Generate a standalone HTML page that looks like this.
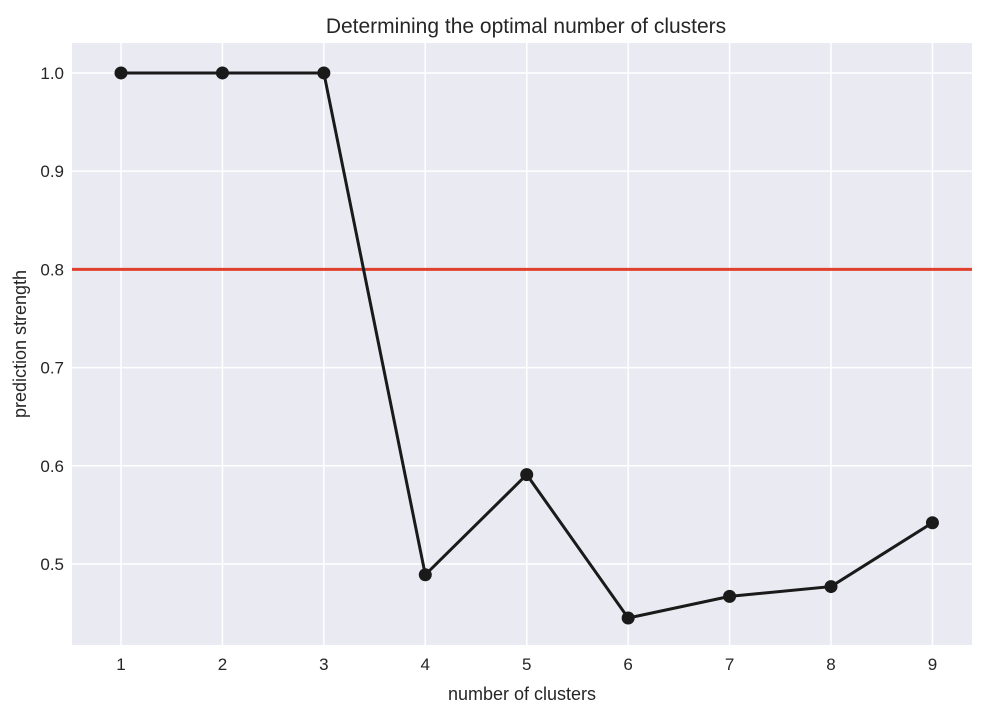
<!DOCTYPE html>
<html><head><meta charset="utf-8"><style>
body{margin:0;background:#fff;}
svg{display:block;font-family:"Liberation Sans",sans-serif;}
</style></head><body>
<svg id="chart" width="1002" height="722">
<rect x="72" y="43" width="900" height="602" fill="#eaeaf2"/>
<g id="grid"></g><g id="ticks"></g><g id="series"></g>
<text x="526" y="33" text-anchor="middle" font-size="21" fill="#262626">Determining the optimal number of clusters</text>
<text x="522" y="700" text-anchor="middle" font-size="18" fill="#262626">number of clusters</text>
<text transform="translate(26,344) rotate(-90)" text-anchor="middle" font-size="18" fill="#262626">prediction strength</text>
</svg>
<script>
const clusters=[1,2,3,4,5,6,7,8,9];
const strength=[1.0,1.0,1.0,0.489,0.591,0.445,0.467,0.477,0.542];
const yTicks=[0.5,0.6,0.7,0.8,0.9,1.0];
const threshold=0.8;
const L=72,R=972,T=43,B=645,xmin=0.517,xmax=9.39,ymin=0.4175,ymax=1.0305;
const sx=v=>L+(v-xmin)/(xmax-xmin)*(R-L);
const sy=v=>B-(v-ymin)/(ymax-ymin)*(B-T);
const NS="http://www.w3.org/2000/svg";
function mk(tag,attrs,parent){const e=document.createElementNS(NS,tag);for(const k in attrs)e.setAttribute(k,attrs[k]);document.getElementById(parent).appendChild(e);return e;}
clusters.forEach(c=>{
 const g=mk('line',{x1:sx(c),x2:sx(c),y1:T,y2:B,stroke:'#fff','stroke-width':1.5},'grid');
 
 
 const t=mk('text',{x:sx(c),y:B+25,'text-anchor':'middle','font-size':17,fill:'#262626'},'ticks');
 t.textContent=c;
 
 
});
yTicks.forEach(v=>{
 const g=mk('line',{x1:L,x2:R,y1:sy(v),y2:sy(v),stroke:'#fff','stroke-width':1.5},'grid');
 
 
 const t=mk('text',{x:L-8,y:sy(v)+6,'text-anchor':'end','font-size':17,fill:'#262626'},'ticks');
 t.textContent=v.toFixed(1);
 
 
});
const th=mk('line',{x1:L,x2:R,y1:sy(threshold),y2:sy(threshold),stroke:'#e0402e','stroke-width':3},'series');


const pl=mk('polyline',{points:clusters.map((c,i)=>sx(c)+','+sy(strength[i])).join(' '),fill:'none',stroke:'#1a1a1a','stroke-width':3},'series');


clusters.forEach((c,i)=>{
 const p=mk('circle',{cx:sx(c),cy:sy(strength[i]),r:6.5,fill:'#1a1a1a'},'series');
 
 
});
</script>
</body></html>
